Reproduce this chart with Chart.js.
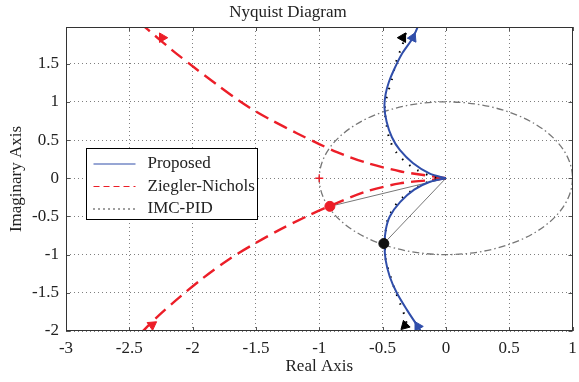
<!DOCTYPE html>
<html lang="en">
<head>
<meta charset="UTF-8">
<title>Nyquist Diagram</title>
<style>
    body { margin: 0; padding: 0; background: #fff; }
</style>
</head>
<body>
<canvas id="nyquistChart" width="579" height="382"></canvas>

<script src="https://cdn.jsdelivr.net/npm/chart.js"></script>
<script>
    // axis ticks
    const xTicks = [-3, -2.5, -2, -1.5, -1, -0.5, 0, 0.5, 1];
    const yTicks = [-2, -1.5, -1, -0.5, 0, 0.5, 1, 1.5];
    const seriesNames = ['Proposed', 'Ziegler-Nichols', 'IMC-PID'];

    // Proposed: upper and lower branch, both start at the origin
    const propUpX = [0, -0.127, -0.261, -0.364, -0.427, -0.468, -0.485, -0.476, -0.45, -0.41, -0.35, -0.261, -0.20];
    const propUpY = [0, 0.06, 0.20, 0.37, 0.54, 0.74, 0.93, 1.10, 1.26, 1.42, 1.62, 1.84, 2.07];
    const propLoX = [0, -0.13, -0.25, -0.36, -0.443, -0.474, -0.484, -0.476, -0.443, -0.388, -0.309, -0.222, -0.18];
    const propLoY = [0, -0.05, -0.15, -0.31, -0.50, -0.67, -0.86, -1.07, -1.29, -1.50, -1.72, -1.94, -2.05];

    // Ziegler-Nichols
    const znUpX = [0, -0.103, -0.364, -0.627, -0.86, -1.0, -1.177, -1.366, -1.49, -1.627, -1.81, -1.982, -2.155, -2.353, -2.42];
    const znUpY = [0, 0.024, 0.092, 0.202, 0.342, 0.447, 0.589, 0.75, 0.864, 1.008, 1.228, 1.443, 1.668, 1.945, 2.04];
    const znLoX = [0, -0.10, -0.364, -0.627, -0.916, -1.10, -1.311, -1.495, -1.706, -1.92, -2.10, -2.258, -2.36, -2.42];
    const znLoY = [0, -0.02, -0.068, -0.173, -0.363, -0.50, -0.673, -0.842, -1.053, -1.31, -1.553, -1.782, -1.945, -2.05];

    // IMC-PID
    const imcUpX = [0, -0.103, -0.23, -0.309, -0.388, -0.443, -0.466, -0.482, -0.466, -0.427, -0.403, -0.38, -0.348, -0.30, -0.28];
    const imcUpY = [0, 0.02, 0.11, 0.20, 0.33, 0.50, 0.67, 0.90, 1.07, 1.29, 1.46, 1.59, 1.72, 1.98, 2.05];
    const imcLoX = [0, -0.11, -0.22, -0.34, -0.41, -0.459, -0.474, -0.482, -0.474, -0.45, -0.403, -0.364, -0.324, -0.30, -0.29];
    const imcLoY = [0, -0.03, -0.11, -0.25, -0.38, -0.54, -0.67, -0.84, -1.07, -1.22, -1.46, -1.63, -1.81, -1.98, -2.05];

    // direction arrows (rotation in degrees, clockwise from "up")
    const propArrowX = [-0.261, -0.222];
    const propArrowY = [1.84, -1.94];
    const propArrowRot = [25, 90];
    const znArrowX = [-2.24, -2.32];
    const znArrowY = [1.84, -1.92];
    const znArrowRot = [90, 55];
    const imcArrowX = [-0.34, -0.324];
    const imcArrowY = [1.84, -1.93];
    const imcArrowRot = [-90, -15];

    // gain crossover points and critical point
    const znCross = [-0.916, -0.368];
    const imcCross = [-0.49, -0.855];
    const critical = [-1, 0];
    const unitCircle = { cx: 0, cy: 0, r: 1 };

    const blue = 'rgb(48, 78, 170)';
    const red = 'rgb(236, 30, 40)';
    const black = '#000';
    const grey = '#777';
    const serif = "'Liberation Serif', 'Times New Roman', serif";

    function pts(xs, ys) {
        return xs.map((x, i) => ({ x: x, y: ys[i] }));
    }

    function curve(xs, ys, color, width, dash, order) {
        return {
            data: pts(xs, ys),
            showLine: true,
            borderColor: color,
            borderWidth: width,
            borderDash: dash,
            pointRadius: 0,
            tension: 0.3,
            fill: false,
            order: order
        };
    }

    function arrows(xs, ys, rots, color) {
        return {
            data: pts(xs, ys),
            showLine: false,
            pointStyle: 'triangle',
            pointRadius: 5.5,
            pointRotation: rots,
            backgroundColor: color,
            borderColor: color,
            borderWidth: 1,
            order: 0
        };
    }

    // unit circle (dash-dot) drawn under the curves
    const circlePlugin = {
        id: 'unitCircle',
        beforeDatasetsDraw(chart) {
            const { ctx, chartArea, scales: { x, y } } = chart;
            const cx = x.getPixelForValue(unitCircle.cx);
            const cy = y.getPixelForValue(unitCircle.cy);
            const rx = x.getPixelForValue(unitCircle.cx + unitCircle.r) - cx;
            const ry = cy - y.getPixelForValue(unitCircle.cy + unitCircle.r);
            ctx.save();
            ctx.beginPath();
            ctx.rect(chartArea.left, chartArea.top, chartArea.width, chartArea.height);
            ctx.clip();
            ctx.strokeStyle = grey;
            ctx.lineWidth = 1.3;
            ctx.setLineDash([7, 3, 1.5, 3]);
            ctx.beginPath();
            ctx.ellipse(cx, cy, rx, ry, 0, 0, Math.PI * 2);
            ctx.stroke();
            ctx.restore();
        }
    };

    // axes box, inner tick marks and the legend
    const boxPlugin = {
        id: 'boxLegend',
        afterDatasetsDraw(chart) {
            const { ctx, chartArea: a, scales: { x, y } } = chart;
            ctx.save();
            ctx.setLineDash([]);
            ctx.strokeStyle = '#555';
            ctx.lineWidth = 1;
            xTicks.forEach(v => {
                const px = Math.round(x.getPixelForValue(v)) + 0.5;
                ctx.beginPath();
                ctx.moveTo(px, a.bottom); ctx.lineTo(px, a.bottom - 4);
                ctx.moveTo(px, a.top); ctx.lineTo(px, a.top + 4);
                ctx.stroke();
            });
            yTicks.forEach(v => {
                const py = Math.round(y.getPixelForValue(v)) + 0.5;
                ctx.beginPath();
                ctx.moveTo(a.left, py); ctx.lineTo(a.left + 4, py);
                ctx.moveTo(a.right, py); ctx.lineTo(a.right - 4, py);
                ctx.stroke();
            });
            ctx.strokeStyle = '#333';
            ctx.strokeRect(Math.round(a.left) + 0.5, Math.round(a.top) + 0.5,
                Math.round(a.width) - 1, Math.round(a.height) - 1);

            // legend
            const lx = Math.round(a.left) + 20.5, ly = Math.round(a.top) + 121.5;
            const lw = 171, lh = 71;
            ctx.fillStyle = '#fff';
            ctx.fillRect(lx, ly, lw, lh);
            ctx.strokeStyle = '#000';
            ctx.strokeRect(lx, ly, lw, lh);
            const styles = [
                { color: blue, dash: [], width: 1.2 },
                { color: red, dash: [6, 4], width: 1.2 },
                { color: black, dash: [1, 4], width: 1.5 }
            ];
            ctx.font = '17px ' + serif;
            ctx.textBaseline = 'middle';
            seriesNames.forEach((name, i) => {
                const rowY = ly + 15.5 + i * 22.5;
                ctx.strokeStyle = styles[i].color;
                ctx.lineWidth = styles[i].width;
                ctx.setLineDash(styles[i].dash);
                ctx.beginPath();
                ctx.moveTo(lx + 7, rowY);
                ctx.lineTo(lx + 49, rowY);
                ctx.stroke();
                ctx.fillStyle = '#222';
                ctx.fillText(name, lx + 61, rowY);
            });
            ctx.restore();
        }
    };

    const ctx = document.getElementById('nyquistChart').getContext('2d');
    const nyquistChart = new Chart(ctx, {
        type: 'scatter',
        data: {
            datasets: [
                arrows(propArrowX, propArrowY, propArrowRot, blue),
                arrows(imcArrowX, imcArrowY, imcArrowRot, black),
                arrows(znArrowX, znArrowY, znArrowRot, red),
                {
                    data: [{ x: znCross[0], y: znCross[1] }],
                    pointRadius: 5, backgroundColor: red, borderColor: red, order: 1
                },
                {
                    data: [{ x: imcCross[0], y: imcCross[1] }],
                    pointRadius: 5, backgroundColor: '#111', borderColor: '#111', order: 1
                },
                curve(propUpX, propUpY, blue, 2, [], 2),
                curve(propLoX, propLoY, blue, 2, [], 2),
                curve(imcUpX, imcUpY, black, 2, [1.5, 8], 3),
                curve(imcLoX, imcLoY, black, 2, [1.5, 8], 3),
                curve(znUpX, znUpY, red, 2.4, [14, 7], 4),
                curve(znLoX, znLoY, red, 2.4, [14, 7], 4),
                {
                    data: [{ x: 0, y: 0 }, { x: znCross[0], y: znCross[1] }],
                    showLine: true, borderColor: grey, borderWidth: 1, pointRadius: 0, order: 5
                },
                {
                    data: [{ x: 0, y: 0 }, { x: imcCross[0], y: imcCross[1] }],
                    showLine: true, borderColor: grey, borderWidth: 1, pointRadius: 0, order: 5
                },
                {
                    data: [{ x: critical[0], y: critical[1] }],
                    pointStyle: 'cross', pointRadius: 4, borderColor: red, borderWidth: 1.3, order: 6
                }
            ]
        },
        options: {
            responsive: false,
            animation: false,
            layout: { padding: { left: 0, right: 3, top: 0, bottom: 0 } },
            plugins: {
                legend: { display: false },
                tooltip: { enabled: false },
                title: {
                    display: true,
                    text: 'Nyquist Diagram',
                    color: '#222',
                    font: { family: serif, size: 17, weight: 'normal', lineHeight: 1 },
                    padding: { top: 4, bottom: 6 }
                }
            },
            scales: {
                x: {
                    type: 'linear',
                    min: -3,
                    max: 1,
                    afterFit: s => { s.height = 51; s.paddingLeft = 0; s.paddingRight = 0; },
                    afterBuildTicks: s => { s.ticks = xTicks.map(v => ({ value: v })); },
                    grid: { color: 'rgba(0,0,0,0.5)', lineWidth: 1, drawTicks: false },
                    border: { display: false, dash: [1, 3] },
                    ticks: {
                        padding: 7,
                        color: '#222',
                        font: { family: serif, size: 17 },
                        maxRotation: 0,
                        callback: v => String(v)
                    },
                    title: {
                        display: true,
                        text: 'Real Axis',
                        color: '#222',
                        font: { family: serif, size: 17 },
                        padding: { top: 0, bottom: 5 }
                    }
                },
                y: {
                    type: 'linear',
                    min: -2,
                    max: 1.98,
                    afterFit: s => { s.width = 66; s.paddingTop = 0; s.paddingBottom = 0; },
                    afterBuildTicks: s => { s.ticks = yTicks.map(v => ({ value: v })); },
                    grid: { color: 'rgba(0,0,0,0.5)', lineWidth: 1, drawTicks: false },
                    border: { display: false, dash: [1, 3] },
                    ticks: {
                        padding: 7,
                        color: '#222',
                        font: { family: serif, size: 17 },
                        callback: v => String(v)
                    },
                    title: {
                        display: true,
                        text: 'Imaginary Axis',
                        color: '#222',
                        font: { family: serif, size: 17 },
                        padding: { top: 6, bottom: 0 }
                    }
                }
            }
        },
        plugins: [circlePlugin, boxPlugin]
    });
</script>
</body>
</html>
